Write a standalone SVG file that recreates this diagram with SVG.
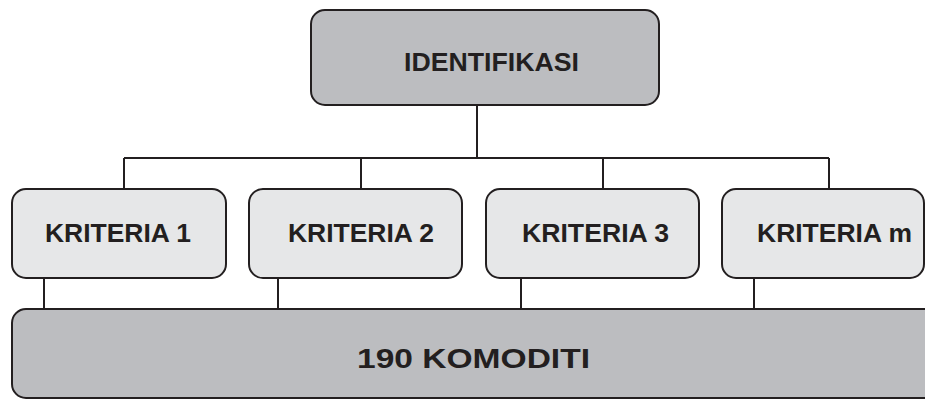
<svg xmlns="http://www.w3.org/2000/svg" width="925" height="400" viewBox="0 0 925 400">
<style>
.dark{fill:#bcbdc0;stroke:#231f20;stroke-width:2}
.light{fill:#e6e7e8;stroke:#231f20;stroke-width:2}
.t{font-family:"Liberation Sans",Arial,sans-serif;font-weight:bold;fill:#231f20}
.c{stroke:#231f20;stroke-width:2;fill:none}
</style>
<rect width="925" height="400" fill="#ffffff"/>
<g id="connectors">
<path class="c" d="M477,105 V158 M124,158 H829 M124,158 V189 M361,158 V189 M603,158 V189 M829,158 V189"/>
<path class="c" d="M44,278 V309 M278,278 V309 M521,278 V309 M754,278 V309"/>
</g>
<g id="identifikasi">
<rect class="dark" x="311" y="10" width="348" height="95" rx="14"/>
<text class="t" x="404" y="71" font-size="25" textLength="175" lengthAdjust="spacingAndGlyphs">IDENTIFIKASI</text>
</g>
<g id="kriteria1">
<rect class="light" x="12" y="189" width="214" height="89" rx="14"/>
<text class="t" x="45" y="242" font-size="26" textLength="146" lengthAdjust="spacingAndGlyphs">KRITERIA 1</text>
</g>
<g id="kriteria2">
<rect class="light" x="249" y="189" width="213" height="89" rx="14"/>
<text class="t" x="288" y="242" font-size="26" textLength="146" lengthAdjust="spacingAndGlyphs">KRITERIA 2</text>
</g>
<g id="kriteria3">
<rect class="light" x="486" y="189" width="213" height="89" rx="14"/>
<text class="t" x="522" y="242" font-size="26" textLength="147" lengthAdjust="spacingAndGlyphs">KRITERIA 3</text>
</g>
<g id="kriteriam">
<rect class="light" x="722" y="189" width="202" height="89" rx="14"/>
<text class="t" x="757" y="242" font-size="26" textLength="155" lengthAdjust="spacingAndGlyphs">KRITERIA m</text>
</g>
<g id="komoditi">
<rect class="dark" x="12" y="309" width="940" height="89" rx="14"/>
<text class="t" x="357" y="368" font-size="27" textLength="233" lengthAdjust="spacingAndGlyphs">190 KOMODITI</text>
</g>
</svg>
